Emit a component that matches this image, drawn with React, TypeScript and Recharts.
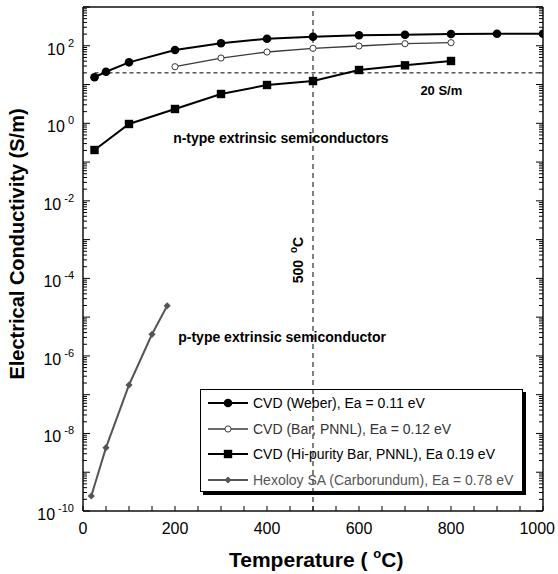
import React from 'react';
import { LineChart, Line, XAxis, YAxis, ReferenceLine, ReferenceDot, Legend } from 'recharts';

const FONT = '"Liberation Sans", Arial, Helvetica, sans-serif';

// temperature (°C) / conductivity (S/m) per source
const T_WEBER = [25, 50, 100, 200, 300, 400, 500, 600, 700, 800, 900, 1000];
const S_WEBER = [15.4, 21.4, 37.4, 77.8, 116, 152, 171, 186, 193, 201, 205, 205];

const T_BAR = [200, 300, 400, 500, 600, 700, 800];
const S_BAR = [28.8, 48.3, 69, 86, 98.6, 113, 120];

const T_HIP = [25, 100, 200, 300, 400, 500, 600, 700, 800];
const S_HIP = [0.205, 0.96, 2.34, 5.7, 9.73, 12.3, 23.7, 31.3, 40.5];

const T_HEX = [18, 50, 100, 150, 183];
const S_HEX = [2.44e-10, 4.3e-9, 1.78e-7, 3.61e-6, 1.97e-5];

const X_TICKS = [0, 50, 100, 150, 200, 250, 300, 350, 400, 450, 500, 550, 600, 650, 700, 750, 800, 850, 900, 950, 1000];
const X_LABELS = [0, 200, 400, 600, 800, 1000];
const Y_DECADES = [-10, -9, -8, -7, -6, -5, -4, -3, -2, -1, 0, 1, 2, 3];
const Y_MINOR = [2, 3, 4, 5, 6, 7, 8, 9];
const Y_LABEL_DECADES = [-10, -8, -6, -4, -2, 0, 2];
const Y_TICKS = Y_DECADES.flatMap((k) => [
  Math.pow(10, k),
  ...(k < 3 ? Y_MINOR.map((m) => m * Math.pow(10, k)) : []),
]);

const THRESHOLD = 20;
const T_MARK = 500;

const SERIES = [
  { key: 'weber', name: 'CVD (Weber), Ea = 0.11 eV', t: T_WEBER, s: S_WEBER, color: '#000', width: 2, marker: 'circle', text: '#000' },
  { key: 'bar', name: 'CVD (Bar, PNNL), Ea = 0.12 eV', t: T_BAR, s: S_BAR, color: '#3a3a3a', width: 1.3, marker: 'open', text: '#333' },
  { key: 'hip', name: 'CVD (Hi-purity Bar, PNNL), Ea 0.19 eV', t: T_HIP, s: S_HIP, color: '#000', width: 2, marker: 'square', text: '#000' },
  { key: 'hex', name: 'Hexoloy SA (Carborundum), Ea = 0.78 eV', t: T_HEX, s: S_HEX, color: '#555', width: 2, marker: 'diamond', text: '#555' },
];

const rows = (t: number[], s: number[]) => t.map((v, i) => ({ t: v, s: s[i] }));

function Marker({ kind, cx, cy, color }: { kind: string; cx: number; cy: number; color: string }) {
  if (cx == null || cy == null) return null;
  switch (kind) {
    case 'circle':
      return <circle cx={cx} cy={cy} r={4.3} fill={color} />;
    case 'open':
      return <circle cx={cx} cy={cy} r={3.1} fill="#fff" stroke={color} strokeWidth={1} />;
    case 'square':
      return <rect x={cx - 4.2} y={cy - 4.2} width={8.4} height={8.4} fill={color} />;
    default:
      return <polygon points={`${cx},${cy - 3.6} ${cx + 3.6},${cy} ${cx},${cy + 3.6} ${cx - 3.6},${cy}`} fill={color} />;
  }
}

function XTick(props: any) {
  const { x, y, payload, side } = props;
  const v = payload.value;
  const dir = side === 'top' ? 1 : -1;
  // keep the last label inside the picture, as in the original
  const lx = Math.min(x, 554 - String(v).length * 4.2);
  return (
    <g>
      <line x1={x} x2={x} y1={y} y2={y + dir * 5} stroke="#000" strokeWidth={1} />
      {side === 'bottom' && X_LABELS.includes(v) && (
        <text x={lx} y={y + 23} textAnchor="middle" fontFamily={FONT} fontSize={16} fill="#000">
          {v}
        </text>
      )}
    </g>
  );
}

function YTick(props: any) {
  const { x, y, payload, side } = props;
  const v = payload.value;
  const lg = Math.log10(v);
  const k = Math.round(lg);
  const major = Math.abs(lg - k) < 1e-6;
  const len = major ? 7 : 4;
  const dir = side === 'left' ? 1 : -1;
  return (
    <g>
      <line x1={x} x2={x + dir * len} y1={y} y2={y} stroke="#000" strokeWidth={1} />
      {side === 'left' && major && Y_LABEL_DECADES.includes(k) && (
        <text x={x - 9} y={y + 9} textAnchor="end" fontFamily={FONT} fontSize={16} fill="#000">
          10
          <tspan dx={3} dy={-8} fontSize={11}>{k}</tspan>
        </text>
      )}
    </g>
  );
}

function LegendBox() {
  return (
    <div
      style={{
        boxSizing: 'border-box',
        width: 323,
        height: 103,
        border: '1.5px solid #000',
        boxShadow: '3px 3px 0 #000',
        fontFamily: FONT,
        fontSize: 14,
      }}
    >
      {SERIES.map((s) => (
        <div key={s.key} style={{ display: 'flex', alignItems: 'center', height: 25.7, paddingLeft: 7 }}>
          <svg width={40} height={12} style={{ display: 'block' }}>
            <line x1={0} x2={40} y1={6} y2={6} stroke={s.color} strokeWidth={s.width} />
            <Marker kind={s.marker} cx={20} cy={6} color={s.color} />
          </svg>
          <span style={{ marginLeft: 5, color: s.text, whiteSpace: 'nowrap' }}>{s.name}</span>
        </div>
      ))}
    </div>
  );
}

const boldText = { fontFamily: FONT, fontWeight: 700, fill: '#000' } as const;

export default function App() {
  return (
    <div style={{ position: 'absolute', left: 0, top: 0, background: '#fff' }}>
      <LineChart width={558} height={574} margin={{ top: 0, right: 0, bottom: 0, left: 0 }}>
        <XAxis
          xAxisId="b"
          type="number"
          dataKey="t"
          domain={[0, 1000]}
          allowDataOverflow
          ticks={X_TICKS}
          interval={0}
          orientation="bottom"
          height={63}
          tickSize={0}
          tickMargin={0}
          tickLine={false}
          axisLine={{ stroke: '#111', strokeWidth: 1.5 }}
          tick={(p: any) => <XTick {...p} side="bottom" />}
          label={{
            content: ({ viewBox }: any) => (
              <text x={viewBox.x + 146} y={viewBox.y + 55.5} fontSize={21} {...boldText} style={{ whiteSpace: 'pre' }}>
                {'Temperature ( '}
                <tspan dy={-9} fontSize={13}>o</tspan>
                <tspan dy={9}>C)</tspan>
              </text>
            ),
          }}
        />
        <XAxis
          xAxisId="t"
          type="number"
          domain={[0, 1000]}
          allowDataOverflow
          ticks={X_TICKS}
          interval={0}
          orientation="top"
          height={7}
          tickSize={0}
          tickMargin={0}
          tickLine={false}
          axisLine={{ stroke: '#111', strokeWidth: 1.5 }}
          tick={(p: any) => <XTick {...p} side="top" />}
        />
        <YAxis
          yAxisId="l"
          type="number"
          scale="log"
          domain={[1e-10, 1e3]}
          allowDataOverflow
          ticks={Y_TICKS}
          interval={0}
          width={83}
          tickSize={0}
          tickMargin={0}
          tickLine={false}
          axisLine={{ stroke: '#111', strokeWidth: 1.5 }}
          tick={(p: any) => <YTick {...p} side="left" />}
          label={{
            content: () => (
              <text
                x={24}
                y={244}
                transform="rotate(-90 24 244)"
                textAnchor="middle"
                fontSize={20}
                {...boldText}
              >
                Electrical Conductivity (S/m)
              </text>
            ),
          }}
        />
        <YAxis
          yAxisId="r"
          orientation="right"
          type="number"
          scale="log"
          domain={[1e-10, 1e3]}
          allowDataOverflow
          ticks={Y_TICKS}
          interval={0}
          width={15}
          tickSize={0}
          tickMargin={0}
          tickLine={false}
          axisLine={{ stroke: '#111', strokeWidth: 1.5 }}
          tick={(p: any) => <YTick {...p} side="right" />}
        />

        <ReferenceLine
          xAxisId="b"
          yAxisId="l"
          segment={[{ x: 25, y: THRESHOLD }, { x: 1000, y: THRESHOLD }]}
          stroke="#000"
          strokeWidth={1}
          strokeDasharray="4 3"
        />
        <ReferenceLine xAxisId="b" yAxisId="l" x={T_MARK} stroke="#000" strokeWidth={1} strokeDasharray="5 4" />

        {SERIES.map((s) => (
          <Line
            key={s.key}
            xAxisId="b"
            yAxisId="l"
            data={rows(s.t, s.s)}
            dataKey="s"
            name={s.name}
            stroke={s.color}
            strokeWidth={s.width}
            isAnimationActive={false}
            activeDot={false}
            dot={(p: any) => <Marker key={`${s.key}-${p.index}`} kind={s.marker} cx={p.cx} cy={p.cy} color={s.color} />}
          />
        ))}

        <ReferenceDot
          xAxisId="b"
          yAxisId="l"
          x={779}
          y={5.53}
          r={0}
          shape={(p: any) => (
            <text x={p.cx} y={p.cy} textAnchor="middle" fontSize={13} {...boldText}>20 S/m</text>
          )}
        />
        <ReferenceDot
          xAxisId="b"
          yAxisId="l"
          x={196}
          y={0.31}
          r={0}
          shape={(p: any) => (
            <text x={p.cx} y={p.cy} fontSize={14} {...boldText}>n-type extrinsic semiconductors</text>
          )}
        />
        <ReferenceDot
          xAxisId="b"
          yAxisId="l"
          x={207}
          y={2.29e-6}
          r={0}
          shape={(p: any) => (
            <text x={p.cx} y={p.cy} fontSize={14} {...boldText}>p-type extrinsic semiconductor</text>
          )}
        />
        <ReferenceDot
          xAxisId="b"
          yAxisId="l"
          x={479}
          y={2.98e-4}
          r={0}
          shape={(p: any) => (
            <text
              x={p.cx}
              y={p.cy}
              transform={`rotate(-90 ${p.cx} ${p.cy})`}
              textAnchor="middle"
              fontSize={14}
              {...boldText}
              style={{ whiteSpace: 'pre' }}
            >
              {'500 '}
              <tspan dx={3} dy={-6} fontSize={10}>o</tspan>
              <tspan dy={6}>C</tspan>
            </text>
          )}
        />

        <Legend
          layout="vertical"
          align="center"
          verticalAlign="middle"
          wrapperStyle={{ left: 200, top: 389, width: 323, height: 103 }}
          content={() => <LegendBox />}
        />
      </LineChart>
    </div>
  );
}
